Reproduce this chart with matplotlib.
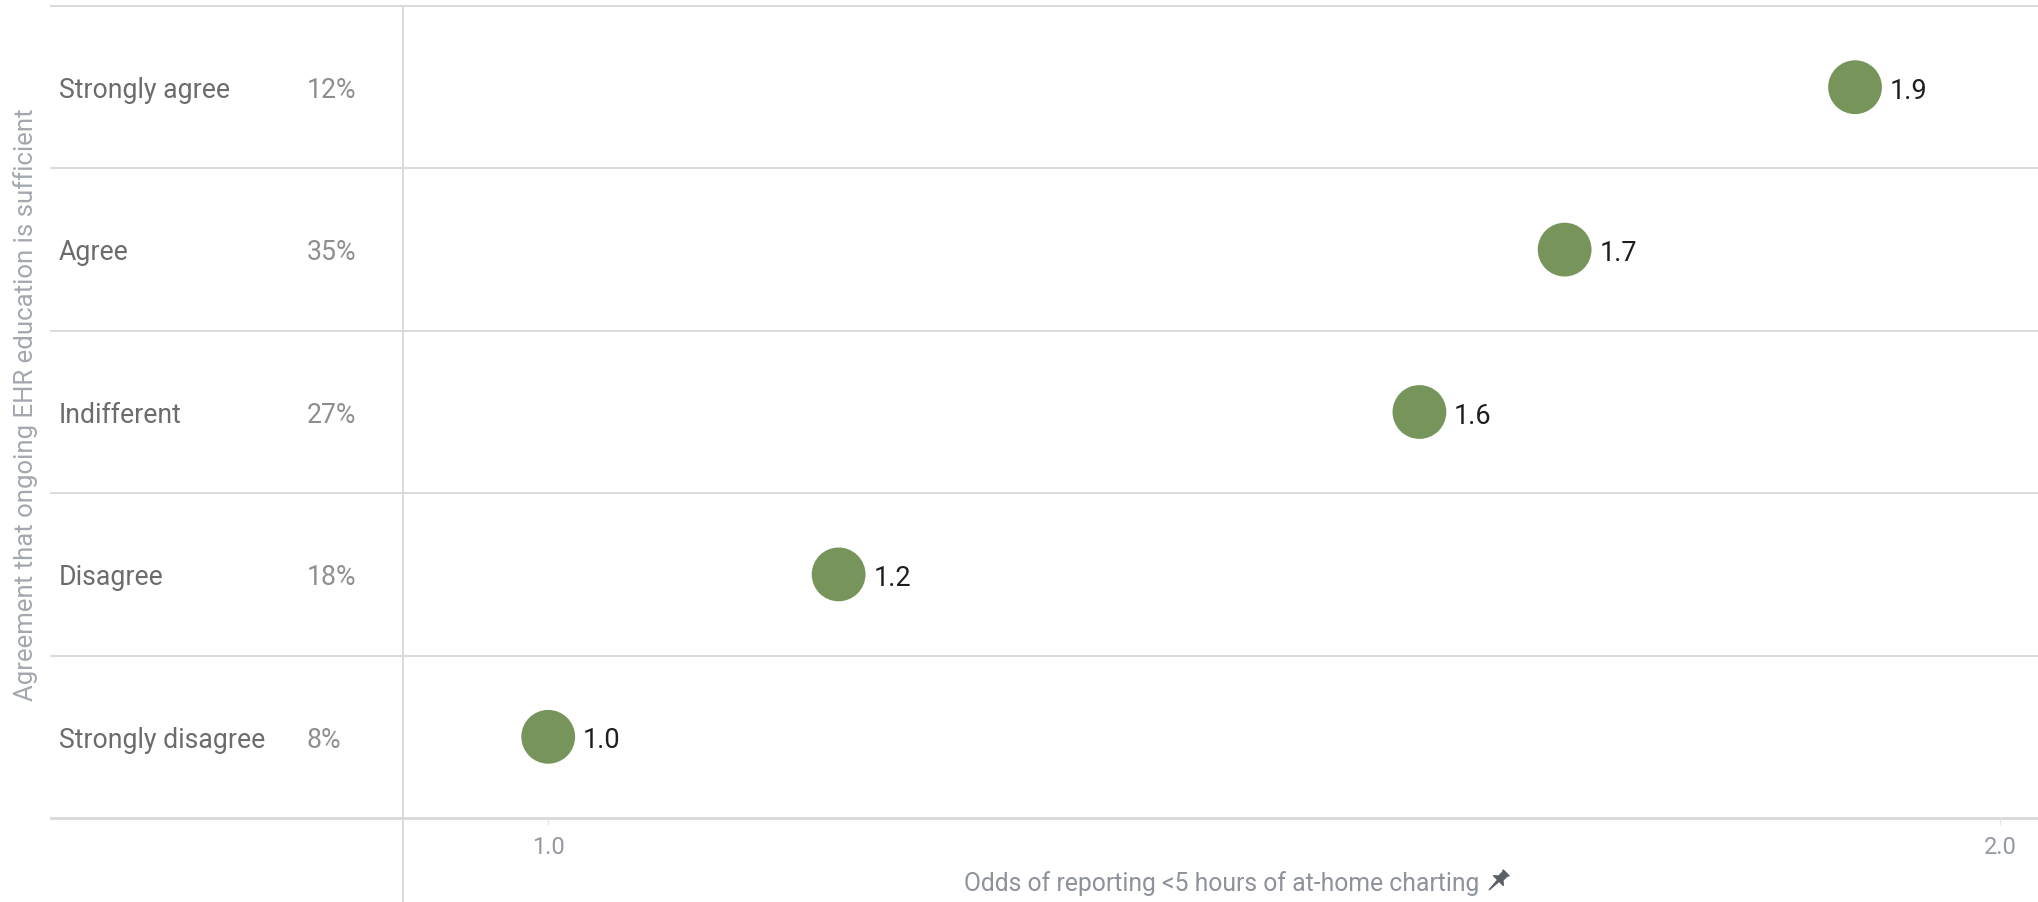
import matplotlib
matplotlib.use("Agg")
import numpy as np
import matplotlib.pyplot as plt
from matplotlib.path import Path
from matplotlib.transforms import blended_transform_factory

plt.rcParams['font.family'] = ['Roboto', 'DejaVu Sans']

# survey answers, bottom row first
categories = ["Strongly disagree", "Disagree", "Indifferent", "Agree", "Strongly agree"]
shares = ["8%", "18%", "27%", "35%", "12%"]
odds = [1.0, 1.2, 1.6, 1.7, 1.9]
x_ticks = [1.0, 2.0]

green = "#77945a"
grid_col = "#d8d8d8"

fig = plt.figure(figsize=(20.38, 9.02), dpi=100)
ax = fig.add_axes([403 / 2038, 1 - 818 / 902, 1 - 403 / 2038, (818 - 6) / 902])

ys = np.arange(len(categories))
ax.scatter(odds, ys, s=1500, color=green, edgecolors="none", zorder=3)
for x, y in zip(odds, ys):
    ax.annotate(f"{x:.1f}", (x, y), xytext=(25, -3), textcoords="offset points",
                ha="left", va="center", fontsize=19.5, color="#1e1e1e")

ax.set_xlim(0.9, 2.026)
ax.set_ylim(-0.5, len(categories) - 0.5)
for sp in ax.spines.values():
    sp.set_visible(False)
ax.set_yticks([])
ax.set_xticks(x_ticks)
ax.set_xticklabels([f"{t:.1f}" for t in x_ticks])
ax.tick_params(axis="x", length=5, width=1, color="#e6e6e6", pad=8,
               labelsize=17, labelcolor="#9499a2")

# row separators run across the label columns too
left_ext = -(403 - 51) / (2038 - 403)
for b in np.arange(-0.5, len(categories), 1.0):
    ax.axhline(b, xmin=left_ext, xmax=1, color=grid_col,
               lw=2.0 if b == -0.5 else 1.3, clip_on=False, zorder=1)
ax.axvline(0.9, ymin=-(902 - 818) / (818 - 6), ymax=1, color=grid_col,
           lw=1.3, clip_on=False, zorder=1)

trans = blended_transform_factory(fig.transFigure, ax.transData)
for y, cat, pct in zip(ys, categories, shares):
    ax.text(59 / 2038, y - 0.02, cat, transform=trans, ha="left", va="center",
            fontsize=19.2, color="#6c6c6c")
    ax.text(307 / 2038, y - 0.02, pct, transform=trans, ha="left", va="center",
            fontsize=19.2, color="#8e8e8e")

fig.text(26 / 2038, 1 - 405 / 902, "Agreement that ongoing EHR education is sufficient",
         rotation=90, ha="center", va="center", fontsize=18.5, color="#a3a8b0")

xl = fig.text(1222 / 2038, 1 - 884 / 902, "Odds of reporting <5 hours of at-home charting",
              ha="center", va="center", fontsize=17.8, color="#8d929b")

# small pushpin icon after the axis title
head = [(-0.3, 1.0), (0.3, 1.0), (0.22, 0.85), (0.22, 0.45), (0.5, 0.2),
        (-0.5, 0.2), (-0.22, 0.45), (-0.22, 0.85), (-0.3, 1.0)]
needle = [(-0.07, 0.2), (0.07, 0.2), (0.0, -0.75), (-0.07, 0.2)]
verts = head + needle
codes = ([Path.MOVETO] + [Path.LINETO] * (len(head) - 2) + [Path.CLOSEPOLY]
         + [Path.MOVETO] + [Path.LINETO] * (len(needle) - 2) + [Path.CLOSEPOLY])
ang = np.deg2rad(-45)
rot = np.array([[np.cos(ang), -np.sin(ang)], [np.sin(ang), np.cos(ang)]])
pin = Path(np.array(verts) @ rot.T, codes)
fig.canvas.draw()
bb = xl.get_window_extent()
fig.add_artist(plt.Line2D([(bb.x1 + 16) / 2038], [1 - 882 / 902], marker=pin,
                          markersize=18, color="#5a5f66", linestyle="none",
                          transform=fig.transFigure))

fig.savefig("out.png", dpi=100)
